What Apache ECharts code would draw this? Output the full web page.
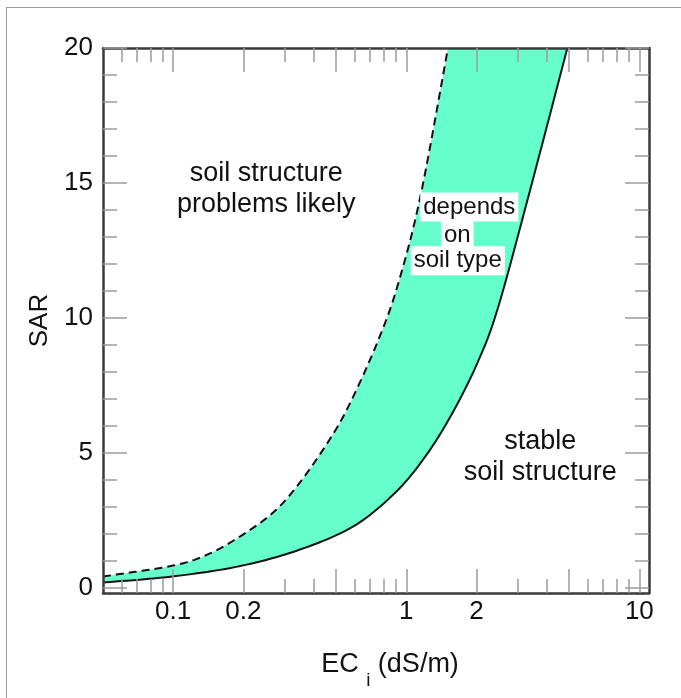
<!DOCTYPE html>
<html>
<head>
<meta charset="utf-8">
<title>SAR vs EC</title>
<script src="https://cdn.jsdelivr.net/npm/echarts@6/dist/echarts.min.js"></script>
<style>
    html, body { margin: 0; padding: 0; background: #fff; overflow: hidden; }
    #frame { position: absolute; left: 6px; top: 7px; width: 720px; height: 720px; border: 1px solid #9a9a9a; }
    #main { position: absolute; left: 0; top: 0; width: 681px; height: 698px; }
</style>
</head>
<body>
<div id="frame"></div>
<div id="main"></div>
<script>
// 虚线（左/上边界）：EC 与 SAR
var dashEC  = [0.05, 0.099, 0.14, 0.194, 0.27, 0.35, 0.47, 0.575, 0.75, 0.915, 1.15, 1.51];
var dashSAR = [0.41, 0.81, 1.22, 1.9, 2.8, 3.9, 5.5, 6.85, 9.07, 11.15, 14.5, 20];

// 实线（右/下边界）
var solidEC  = [0.05, 0.099, 0.194, 0.35, 0.59, 0.88, 1.18, 1.545, 2.02, 2.48, 3.4, 4.91];
var solidSAR = [0.19, 0.41, 0.8, 1.41, 2.26, 3.45, 4.74, 6.33, 8.33, 10.4, 14.74, 20];

// 刻度
var ecLabels = [0.1, 0.2, 1, 2, 10];
var ecMajor = [0.1, 0.2, 0.5, 1, 2, 5, 10];
var ecMinor = [0.06, 0.07, 0.08, 0.09, 0.3, 0.4, 0.6, 0.7, 0.8, 0.9, 3, 4, 6, 7, 8, 9];
var sarLabels = [0, 5, 10, 15, 20];
var sarMinor = [1, 2, 3, 4, 6, 7, 8, 9, 11, 12, 13, 14, 16, 17, 18, 19];

// 图中文字
var noteText = ['soil structure\nproblems likely', 'stable\nsoil structure'];
var noteEC = [0.251, 3.76];
var noteSAR = [14.78, 4.85];
var boxText = ['depends', 'on', 'soil type'];
var boxEC = [1.864, 1.655, 1.663];
var boxSAR = [14.11, 13.07, 12.11];

var fontFam = '"Liberation Sans", Arial, Helvetica, sans-serif';
var textColor = '#111';
var tickGray = '#9c9c9c';
var axisDark = '#3a3a3a';
var bandColor = '#66ffcc';

function ecAxis(pos, ticks, len, main) {
    var ax = {
        type: 'log',
        logBase: 10,
        position: pos,
        min: 0.05,
        max: 11,
        z: 3,
        axisLine: { show: main, onZero: false, lineStyle: { color: axisDark, width: 2.5 } },
        axisTick: { show: true, inside: true, length: len, customValues: ticks, lineStyle: { color: tickGray, width: 1.5 } },
        axisLabel: {
            show: main && pos === 'bottom',
            customValues: ecLabels,
            margin: 6,
            color: textColor,
            fontSize: 26,
            fontFamily: fontFam,
            formatter: function (v) { return String(+(+v).toPrecision(2)); }
        },
        splitLine: { show: false }
    };
    if (main && pos === 'bottom') {
        ax.name = '{m|EC }{s|i}{m| (dS/m)}';
        ax.nameLocation = 'middle';
        ax.nameGap = 46;
        ax.nameTextStyle = {
            padding: [0, 0, 0, 28],
            rich: {
                m: { fontSize: 27, fontFamily: fontFam, color: textColor },
                s: { fontSize: 19, fontFamily: fontFam, color: textColor, padding: [32, 0, 0, 0] }
            }
        };
    }
    return ax;
}

function sarAxis(pos, ticks, len, main) {
    var ax = {
        type: 'value',
        position: pos,
        min: -0.2,
        max: 20,
        z: 3,
        axisLine: { show: main, onZero: false, lineStyle: { color: axisDark, width: 2.5 } },
        axisTick: { show: true, inside: true, length: len, customValues: ticks, lineStyle: { color: tickGray, width: 1.5 } },
        axisLabel: {
            show: main && pos === 'left',
            customValues: sarLabels,
            margin: 10,
            color: textColor,
            fontSize: 26,
            fontFamily: fontFam
        },
        splitLine: { show: false }
    };
    if (main && pos === 'left') {
        ax.name = 'SAR';
        ax.nameLocation = 'middle';
        ax.nameGap = 50;
        ax.nameTextStyle = { fontSize: 26, fontFamily: fontFam, color: textColor };
    }
    return ax;
}

// Catmull-Rom 平滑（像素坐标）
function spline(pts, steps) {
    var out = [pts[0]];
    for (var i = 0; i < pts.length - 1; i++) {
        var p0 = pts[Math.max(i - 1, 0)], p1 = pts[i], p2 = pts[i + 1], p3 = pts[Math.min(i + 2, pts.length - 1)];
        for (var s = 1; s <= steps; s++) {
            var t = s / steps, t2 = t * t, t3 = t2 * t;
            var q = [];
            for (var k = 0; k < 2; k++) {
                q.push(0.5 * (2 * p1[k] + (p2[k] - p0[k]) * t +
                    (2 * p0[k] - 5 * p1[k] + 4 * p2[k] - p3[k]) * t2 +
                    (3 * p1[k] - p0[k] - 3 * p2[k] + p3[k]) * t3));
            }
            out.push(q);
        }
    }
    return out;
}

var myChart = echarts.init(document.getElementById('main'));

var option = {
    animation: false,
    backgroundColor: 'transparent',
    grid: { left: 103, top: 48, width: 546, height: 545 },
    xAxis: [
        ecAxis('bottom', ecMajor, 24, true),
        ecAxis('bottom', ecMinor, 14, false),
        ecAxis('top', ecMajor, 24, true),
        ecAxis('top', ecMinor, 14, false)
    ],
    yAxis: [
        sarAxis('left', sarLabels, 24, true),
        sarAxis('left', sarMinor, 14, false),
        sarAxis('right', sarLabels, 24, true),
        sarAxis('right', sarMinor, 14, false)
    ],
    series: [
        {
            // 两条边界曲线和中间的填充带
            type: 'custom',
            z: 2,
            silent: true,
            data: [[dashEC[0], dashSAR[0]]],
            renderItem: function (params, api) {
                var dp = [], sp = [], i;
                for (i = 0; i < dashEC.length; i++) dp.push(api.coord([dashEC[i], dashSAR[i]]));
                for (i = 0; i < solidEC.length; i++) sp.push(api.coord([solidEC[i], solidSAR[i]]));
                var dl = spline(dp, 12), sl = spline(sp, 12);
                var band = dl.concat(sl.slice().reverse());
                return {
                    type: 'group',
                    children: [
                        { type: 'polygon', z2: 1, shape: { points: band }, style: { fill: bandColor } },
                        { type: 'polyline', z2: 2, shape: { points: dl }, style: { stroke: '#111', lineWidth: 2, lineDash: [8, 5], fill: null } },
                        { type: 'polyline', z2: 2, shape: { points: sl }, style: { stroke: '#111', lineWidth: 2, fill: null } }
                    ]
                };
            }
        },
        {
            type: 'scatter',
            z: 5,
            silent: true,
            symbolSize: 0,
            itemStyle: { opacity: 1 },
            data: noteText.map(function (t, i) { return { name: t, value: [noteEC[i], noteSAR[i]] }; }),
            label: {
                show: true,
                position: 'inside',
                formatter: '{b}',
                color: textColor,
                opacity: 1,
                fontSize: 27,
                lineHeight: 31,
                fontFamily: fontFam,
                align: 'center'
            }
        },
        {
            type: 'scatter',
            z: 6,
            silent: true,
            symbolSize: 0,
            itemStyle: { opacity: 1 },
            data: boxText.map(function (t, i) { return { name: t, value: [boxEC[i], boxSAR[i]] }; }),
            label: {
                show: true,
                position: 'inside',
                formatter: '{b}',
                color: textColor,
                opacity: 1,
                fontSize: 24,
                lineHeight: 27,
                fontFamily: fontFam,
                backgroundColor: '#fff',
                padding: [1, 3]
            }
        }
    ]
};

myChart.setOption(option);
</script>
</body>
</html>
